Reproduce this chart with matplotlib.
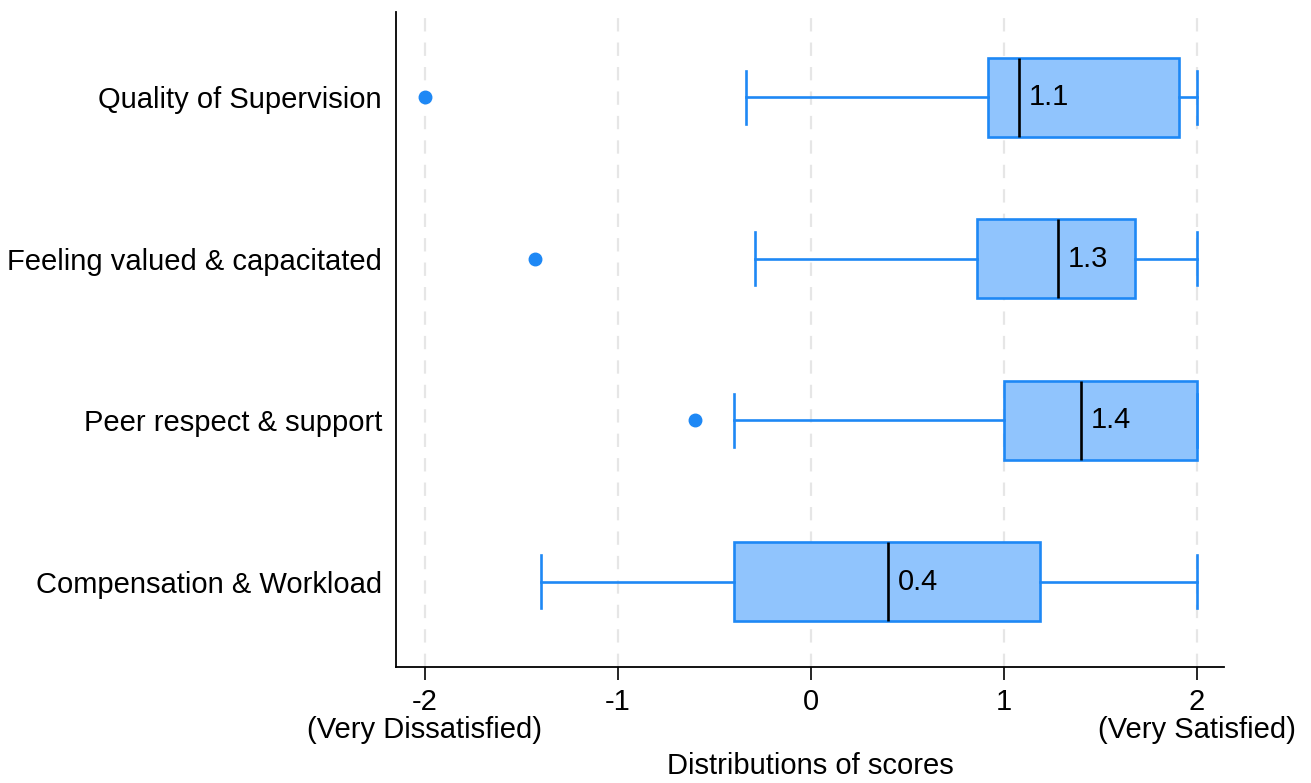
import matplotlib
matplotlib.use("Agg")
import matplotlib.pyplot as plt

plt.rcParams['font.family'] = ['Liberation Sans', 'DejaVu Sans']

# categories from bottom to top
categories = ['Compensation & Workload', 'Peer respect & support',
              'Feeling valued & capacitated', 'Quality of Supervision']
whislo = [-1.40, -0.40, -0.29, -0.335]
q1 = [-0.40, 1.00, 0.86, 0.92]
medians = [0.40, 1.40, 1.28, 1.08]
q3 = [1.19, 2.00, 1.68, 1.91]
whishi = [2.0, 2.0, 2.0, 2.0]
outliers = [[], [-0.60], [-1.43], [-2.0]]
median_labels = ['0.4', '1.4', '1.3', '1.1']

xticks = [-2, -1, 0, 1, 2]
xticklabels = ['-2\n(Very Dissatisfied)', '-1', '0', '1', '2\n(Very Satisfied)']

edge = '#1E88F5'
face = '#90C4FD'

stats = []
for i, name in enumerate(categories):
    stats.append(dict(label=name, med=medians[i], q1=q1[i], q3=q3[i],
                      whislo=whislo[i], whishi=whishi[i], fliers=outliers[i]))

fig, ax = plt.subplots(figsize=(13.11, 7.83), dpi=100)
fig.subplots_adjust(left=0.302, right=0.934, top=0.985, bottom=0.148)

positions = list(range(1, len(categories) + 1))
ax.bxp(stats, positions=positions, vert=False, widths=0.49, capwidths=0.33,
       patch_artist=True,
       boxprops=dict(facecolor=face, edgecolor=edge, linewidth=1.9),
       whiskerprops=dict(color=edge, linewidth=1.9),
       capprops=dict(color=edge, linewidth=1.9),
       medianprops=dict(color='black', linewidth=1.9),
       flierprops=dict(marker='o', markerfacecolor=edge, markeredgecolor=edge,
                       markersize=9),
       zorder=3)

for pos, med, lab in zip(positions, medians, median_labels):
    ax.text(med + 0.05, pos, lab, ha='left', va='center', fontsize=21, zorder=4)

ax.set_xlim(-2.15, 2.145)
ax.set_ylim(0.47, 4.53)
ax.set_xticks(xticks)
ax.set_xticklabels(xticklabels, fontsize=21, linespacing=1.0)
ax.set_yticks(positions)
ax.set_yticklabels(categories, fontsize=21)
ax.tick_params(axis='y', length=0, pad=10)
ax.tick_params(axis='x', length=9, width=1.2, direction='out', pad=6)
ax.xaxis.grid(True, color='#e6e6e6', linestyle=(0, (6, 5)), linewidth=1.6, zorder=0)
ax.set_axisbelow(True)
for s in ['top', 'right']:
    ax.spines[s].set_visible(False)
ax.spines['left'].set_linewidth(1.3)
ax.spines['bottom'].set_linewidth(1.3)
ax.set_xlabel('Distributions of scores', fontsize=21, labelpad=6)

fig.savefig('out.png', dpi=100)
